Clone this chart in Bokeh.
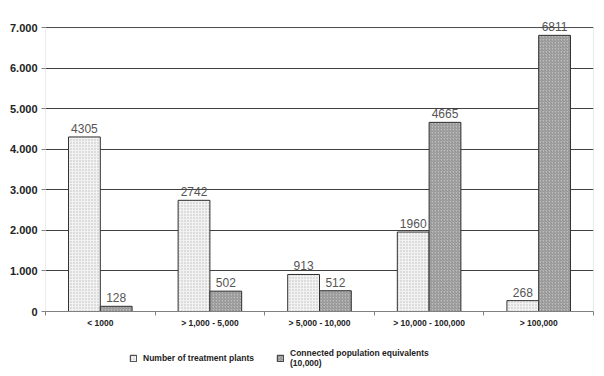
from bokeh.plotting import figure
from bokeh.models import ColumnDataSource, FixedTicker, Range1d, Legend, LegendItem, LabelSet, BoxAnnotation
from bokeh.core.properties import value
from bokeh.layouts import column
from bokeh.embed import file_html
from bokeh.resources import INLINE

categories = ["< 1000", "> 1,000 - 5,000", "> 5,000 - 10,000", "> 10,000 - 100,000", "> 100,000"]
plants = [4305, 2742, 913, 1960, 268]
population = [128, 502, 512, 4665, 6811]
y_ticks = [0, 1000, 2000, 3000, 4000, 5000, 6000, 7000]
y_tick_labels = ["0", "1.000", "2.000", "3.000", "4.000", "5.000", "6.000", "7.000"]
series_names = ["Number of treatment plants", "Connected population equivalents\n(10,000)"]

FONT = "Liberation Sans"
bar_w = 0.29
n = len(categories)
y_max = max(y_ticks)
centers = [i + 0.5 for i in range(n)]
style_a = dict(fill_color="#f2f2f2", line_color="#303030", line_width=1,
               hatch_pattern="dot", hatch_color="#bcbcbc", hatch_scale=3, hatch_weight=1)
style_b = dict(fill_color="#bcbcbc", line_color="#303030", line_width=1,
               hatch_pattern="right_diagonal_line", hatch_color="#8c8c8c", hatch_scale=3, hatch_weight=1)

src_a = ColumnDataSource(dict(x=[c - bar_w / 2 for c in centers], top=plants, lbl=[str(v) for v in plants]))
src_b = ColumnDataSource(dict(x=[c + bar_w / 2 for c in centers], top=population, lbl=[str(v) for v in population]))

# frame extends a little above 7,000 so the top value label is not clipped
p = figure(width=600, height=334, output_backend="svg", toolbar_location=None,
           x_range=Range1d(0, n), y_range=Range1d(0, y_max * 1.05),
           min_border_left=45, min_border_right=7, min_border_top=13, min_border_bottom=23)
p.background_fill_color = "white"
p.border_fill_color = "white"
p.outline_line_color = None

r_a = p.vbar(x="x", top="top", width=bar_w, source=src_a, **style_a)
r_b = p.vbar(x="x", top="top", width=bar_w, source=src_b, **style_b)

p.add_layout(BoxAnnotation(left=0, right=n, bottom=0, top=y_max, fill_alpha=0,
                           line_color="#808080", line_width=1, level="underlay"))

for src in (src_a, src_b):
    p.add_layout(LabelSet(x="x", y="top", text="lbl", source=src, text_align="center",
                          text_baseline="bottom", y_offset=4, text_font=value(FONT),
                          text_font_size="12px", text_color="#555555"))

# y axis
p.yaxis.ticker = FixedTicker(ticks=y_ticks)
p.yaxis.major_label_overrides = {t: l for t, l in zip(y_ticks, y_tick_labels)}
p.yaxis.major_label_text_font = FONT
p.yaxis.major_label_text_font_style = "bold"
p.yaxis.major_label_text_font_size = "11px"
p.yaxis.major_label_text_color = "#222222"
p.yaxis.axis_line_color = None
p.yaxis.major_tick_line_color = "#808080"
p.yaxis.major_tick_in = 0
p.yaxis.major_tick_out = 4
p.yaxis.minor_tick_line_color = None
p.yaxis.major_label_standoff = 4

# x axis
p.xaxis.ticker = FixedTicker(ticks=centers, minor_ticks=list(range(n + 1)))
p.xaxis.major_label_overrides = {c: l for c, l in zip(centers, categories)}
p.xaxis.major_label_text_font = FONT
p.xaxis.major_label_text_font_style = "bold"
p.xaxis.major_label_text_font_size = "8.5px"
p.xaxis.major_label_text_color = "#222222"
p.xaxis.major_tick_line_color = None
p.xaxis.major_tick_in = 0
p.xaxis.major_tick_out = 0
p.xaxis.minor_tick_line_color = "#808080"
p.xaxis.minor_tick_in = 0
p.xaxis.minor_tick_out = 4
p.xaxis.axis_line_color = "#808080"
p.xaxis.major_label_standoff = 2

p.xgrid.grid_line_color = None
p.ygrid.grid_line_color = "#404040"
p.ygrid.grid_line_width = 1

# legend strip (its renderers are hidden; only the legend swatches show)
lg = figure(width=600, height=36, output_backend="svg", toolbar_location=None,
            x_range=Range1d(0, n), y_range=Range1d(0, y_max), x_axis_type=None, y_axis_type=None,
            min_border_left=0, min_border_right=0, min_border_top=0, min_border_bottom=0)
lg.outline_line_color = None
lg.xgrid.grid_line_color = None
lg.ygrid.grid_line_color = None
la = lg.vbar(x="x", top="top", width=bar_w, source=src_a, visible=False, **style_a)
lb = lg.vbar(x="x", top="top", width=bar_w, source=src_b, visible=False, **style_b)
legend = Legend(items=[LegendItem(label=series_names[0], renderers=[la]),
                       LegendItem(label=series_names[1], renderers=[lb])],
                location=(84, 2), orientation="horizontal",
                label_text_font=FONT, label_text_font_style="bold", label_text_font_size="8.5px",
                label_text_color="#222222", glyph_width=8, glyph_height=8,
                label_standoff=6, label_width=128, spacing=5, padding=0, margin=0,
                label_height=10, border_line_color=None, background_fill_alpha=0,
                inactive_fill_alpha=0)
lg.add_layout(legend, "center")

open("out.html", "w").write(file_html(column(p, lg, spacing=0), INLINE))
